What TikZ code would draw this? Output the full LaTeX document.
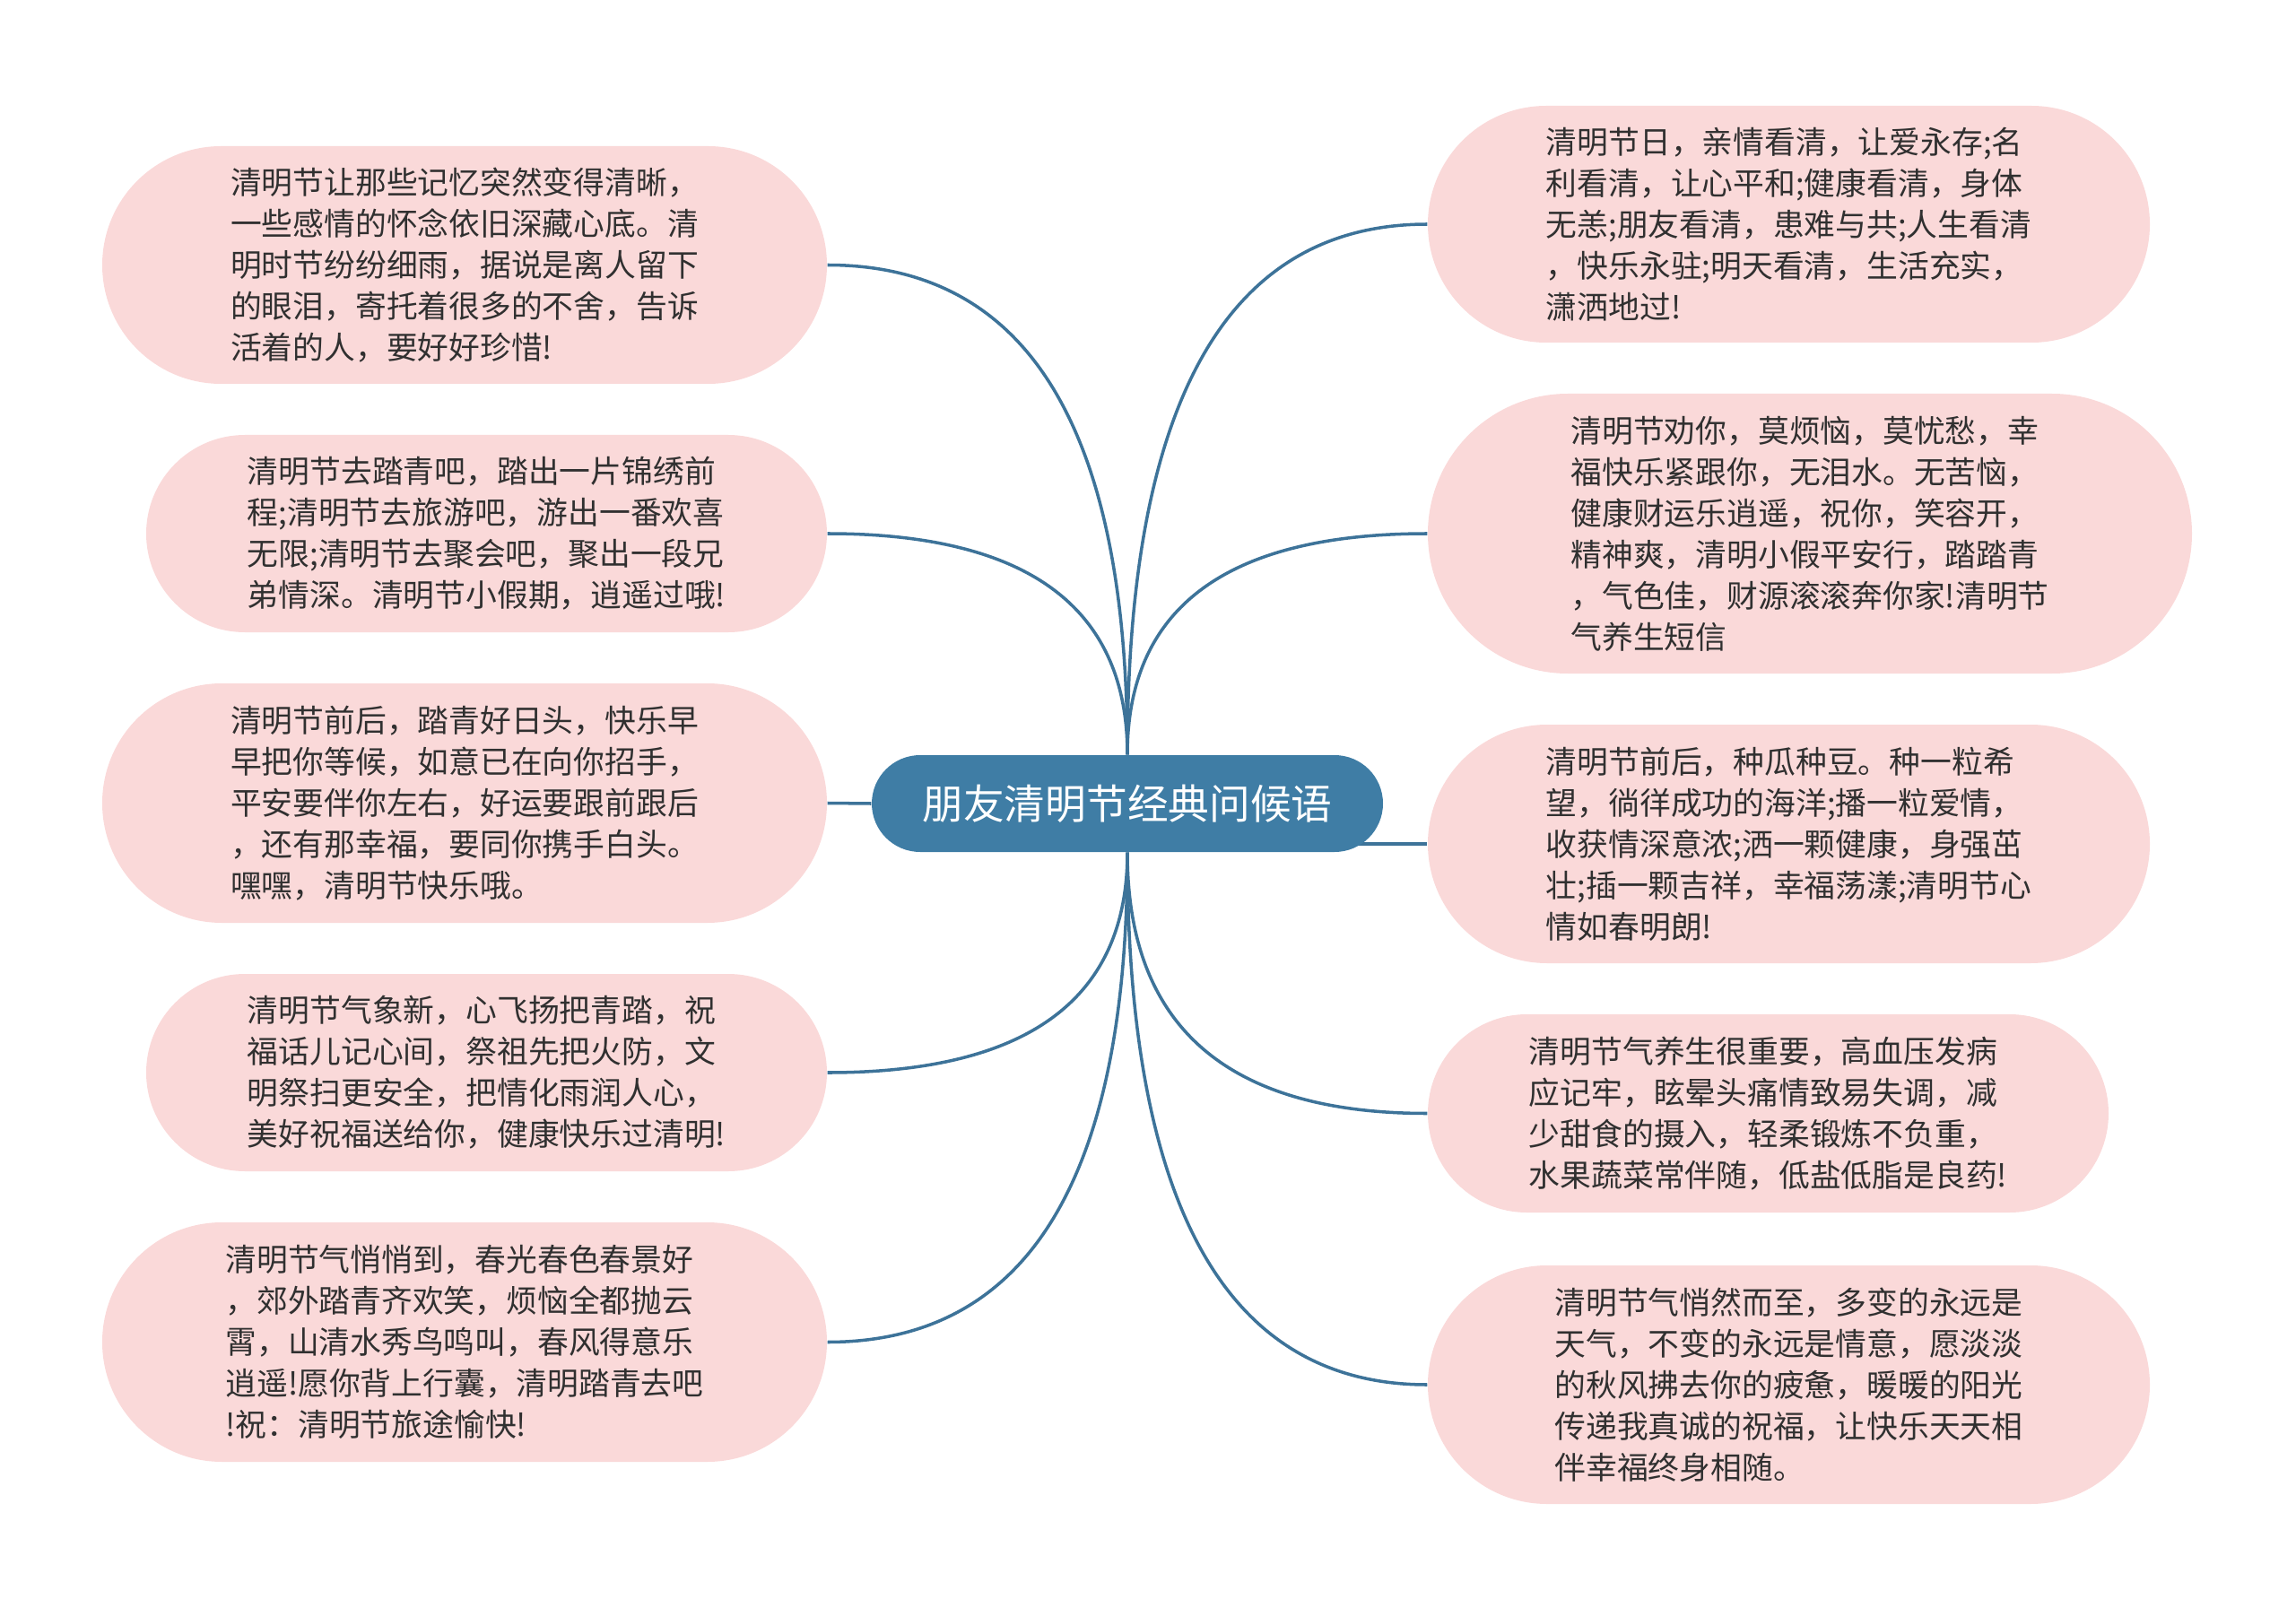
\documentclass[tikz,border=0pt]{standalone}
\usepackage{fontspec}
\setmainfont{Noto Sans CJK SC}
\usetikzlibrary{shapes.misc,backgrounds,positioning,calc}
\definecolor{leafpink}{HTML}{FAD9D9}
\definecolor{hubblue}{HTML}{3F7DA5}
\definecolor{linkblue}{HTML}{3D7399}
\definecolor{inkgray}{HTML}{303030}
\tikzset{
  leaf/.style 2 args={rounded rectangle,fill=leafpink,text=inkgray,align=left,inner sep=0pt,
                      minimum width=#1,minimum height=#2,font=\fontsize{9.9pt}{13.1pt}\selectfont},
  hub/.style ={rounded rectangle,fill=hubblue,text=white,inner sep=0pt,
               minimum width=5.7cm,minimum height=1.08cm,font=\fontsize{13pt}{16pt}\selectfont},
  link/.style={draw=linkblue,line width=1pt},
}
\begin{document}
\begin{tikzpicture}
\useasboundingbox (0,0) rectangle (25.6,-17.93);
\node[hub] (root) at (12.57,-8.96) {朋友清明节经典问候语};

% left branch
\node[leaf={8.08cm}{2.65cm}] (l1) at (5.18,-2.955) {清明节让那些记忆突然变得清晰，\\一些感情的怀念依旧深藏心底。清\\明时节纷纷细雨，据说是离人留下\\的眼泪，寄托着很多的不舍，告诉\\活着的人，要好好珍惜!};
\node[leaf={7.59cm}{2.20cm}] (l2) at (5.425,-5.95) {清明节去踏青吧，踏出一片锦绣前\\程;清明节去旅游吧，游出一番欢喜\\无限;清明节去聚会吧，聚出一段兄\\弟情深。清明节小假期，逍遥过哦!};
\node[leaf={8.08cm}{2.67cm}] (l3) at (5.18,-8.955) {清明节前后，踏青好日头，快乐早\\早把你等候，如意已在向你招手，\\平安要伴你左右，好运要跟前跟后\\，还有那幸福，要同你携手白头。\\嘿嘿，清明节快乐哦。};
\node[leaf={7.59cm}{2.20cm}] (l4) at (5.425,-11.96) {清明节气象新，心飞扬把青踏，祝\\福话儿记心间，祭祖先把火防，文\\明祭扫更安全，把情化雨润人心，\\美好祝福送给你，健康快乐过清明!};
\node[leaf={8.08cm}{2.67cm}] (l5) at (5.18,-14.965) {清明节气悄悄到，春光春色春景好\\，郊外踏青齐欢笑，烦恼全都抛云\\霄，山清水秀鸟鸣叫，春风得意乐\\逍遥!愿你背上行囊，清明踏青去吧\\!祝：清明节旅途愉快!};

% right branch
\node[leaf={8.05cm}{2.64cm}] (r1) at (19.945,-2.50) {清明节日，亲情看清，让爱永存;名\\利看清，让心平和;健康看清，身体\\无恙;朋友看清，患难与共;人生看清\\，快乐永驻;明天看清，生活充实，\\潇洒地过!};
\node[leaf={8.52cm}{3.12cm}] (r2) at (20.18,-5.95) {清明节劝你，莫烦恼，莫忧愁，幸\\福快乐紧跟你，无泪水。无苦恼，\\健康财运乐逍遥，祝你，笑容开，\\精神爽，清明小假平安行，踏踏青\\，气色佳，财源滚滚奔你家!清明节\\气养生短信};
\node[leaf={8.05cm}{2.66cm}] (r3) at (19.945,-9.41) {清明节前后，种瓜种豆。种一粒希\\望，徜徉成功的海洋;播一粒爱情，\\收获情深意浓;洒一颗健康，身强茁\\壮;插一颗吉祥，幸福荡漾;清明节心\\情如春明朗!};
\node[leaf={7.59cm}{2.21cm}] (r4) at (19.715,-12.415) {清明节气养生很重要，高血压发病\\应记牢，眩晕头痛情致易失调，减\\少甜食的摄入，轻柔锻炼不负重，\\水果蔬菜常伴随，低盐低脂是良药!};
\node[leaf={8.05cm}{2.66cm}] (r5) at (19.945,-15.44) {清明节气悄然而至，多变的永远是\\天气，不变的永远是情意，愿淡淡\\的秋风拂去你的疲惫，暖暖的阳光\\传递我真诚的祝福，让快乐天天相\\伴幸福终身相随。};

% connectors (quadratic curves through the corner point)
\begin{pgfonlayer}{background}
  \foreach \s/\n/\e in {north/l1/east,north/l2/east,north/r1/west,north/r2/west,
                        south/l4/east,south/l5/east,south/r4/west,south/r5/west}
    \draw[link] (root.\s) .. controls ($(root.\s)!.667!(root.\s |- \n.\e)$)
                          and ($(\n.\e)!.667!(root.\s |- \n.\e)$) .. (\n.\e);
  \draw[link] (root.west) -- (l3.east);
  \draw[link] (root.center |- r3.west) -- (r3.west);
\end{pgfonlayer}
\end{tikzpicture}
\end{document}
